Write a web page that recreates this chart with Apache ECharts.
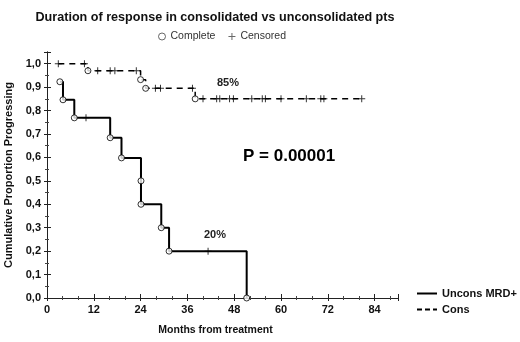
<!DOCTYPE html>
<html>
<head>
<meta charset="utf-8">
<script src="https://cdn.jsdelivr.net/npm/echarts@6/dist/echarts.min.js"></script>
<style>
  html, body { margin: 0; padding: 0; background: #fff; }
  #chart { width: 520px; height: 342px; }
</style>
</head>
<body>
<div id="chart"></div>
<script>
  // Kaplan-Meier data (months, cumulative proportion)
  var unconsTimes = [3.3, 4.1, 7.0, 16.2, 19.1, 24.1, 24.1, 29.3, 31.3, 51.2]
  var unconsSurv = [0.923, 0.846, 0.769, 0.684, 0.598, 0.5, 0.4, 0.3, 0.2, 0.0]
  var unconsCensor = [10.0, 41.3]

  var consStart = [2.9, 1.0]
  var consTimes = [10.5, 24.0, 25.3, 38.0]
  var consSurv = [0.97, 0.932, 0.895, 0.85]
  var consCensor = [2.9, 9.6, 13.0, 16.2, 17.4, 22.9, 27.8, 29.1, 37.3, 40.0, 43.5, 44.3,
    46.8, 47.8, 52.5, 55.2, 56.0, 60.0, 66.5, 70.2, 71.0, 80.7]

  var xTicks = [0, 12, 24, 36, 48, 60, 72, 84]

  // survival value at time t for a step curve
  function survAt(times, surv, t, start) {
    var v = start
    for (var i = 0; i < times.length; i++) {
      if (times[i] <= t) v = surv[i]
    }
    return v
  }

  function stepLine(times, surv, first, last) {
    var pts = []
    if (first) pts.push(first)
    for (var i = 0; i < times.length; i++) pts.push([times[i], surv[i]])
    if (last) pts.push(last)
    return pts
  }

  var unconsLine = stepLine(unconsTimes, unconsSurv, null, null)
  var consLine = stepLine(consTimes, consSurv, consStart,
    [consCensor[consCensor.length - 1], consSurv[consSurv.length - 1]])

  var completePts = []
  unconsTimes.forEach(function (t, i) { completePts.push([t, unconsSurv[i]]) })
  consTimes.forEach(function (t, i) { completePts.push([t, consSurv[i]]) })

  var censorPts = []
  unconsCensor.forEach(function (t) { censorPts.push([t, survAt(unconsTimes, unconsSurv, t, 1)]) })
  consCensor.forEach(function (t) { censorPts.push([t, survAt(consTimes, consSurv, t, consStart[1])]) })

  var plus = 'path://M3,0H4V3H7V4H4V7H3V4H0V3H3Z'
  var solidIcon = 'path://M0,0H20V2H0Z'
  var dashIcon = 'path://M0,0H5V2H0Z M8,0H13V2H8Z M16,0H20V2H16Z'
  var font = 'Liberation Sans, Arial, sans-serif'

  var chart = echarts.init(document.getElementById('chart'))

  var option = {
    animation: false,
    textStyle: { fontFamily: font },
    title: {
      text: 'Duration of response in consolidated vs unconsolidated pts',
      left: 210,
      textAlign: 'center',
      top: 6,
      textStyle: { fontSize: 12.6, fontWeight: 'bold', color: '#111' }
    },
    legend: [
      {
        data: [
          { name: 'Complete', icon: 'circle', itemStyle: { color: '#fff', borderColor: '#444', borderWidth: 1 } },
          { name: 'Censored', icon: plus, itemStyle: { color: '#444', borderWidth: 0 } }
        ],
        top: 26,
        left: 153,
        itemWidth: 7,
        itemHeight: 7,
        itemGap: 13,
        textStyle: { fontSize: 10.5, color: '#333' }
      },
      {
        data: [
          { name: 'Uncons MRD+', icon: solidIcon, itemStyle: { color: '#000', borderWidth: 0 } },
          { name: 'Cons', icon: dashIcon, itemStyle: { color: '#000', borderWidth: 0 } }
        ],
        orient: 'vertical',
        left: 412,
        top: 283,
        itemWidth: 20,
        itemHeight: 2,
        itemGap: 5,
        textStyle: { fontSize: 11, fontWeight: 'bold', color: '#111' }
      }
    ],
    grid: { left: 47, right: 122, top: 52, bottom: 44, show: false, outerBoundsMode: 'none', containLabel: false },
    xAxis: [
      {
        type: 'value',
        min: 0,
        max: 90,
        interval: 12,
        name: 'Months from treatment',
        nameLocation: 'middle',
        nameGap: 27,
        nameTextStyle: { fontSize: 10.5, fontWeight: 'bold', color: '#111', padding: [0, 14, 0, 0] },
        axisLine: { lineStyle: { color: '#222', width: 1 } },
        axisTick: { inside: true, length: 4, lineStyle: { color: '#222' } },
        minorTick: { show: true, splitNumber: 3, length: 2, lineStyle: { color: '#444' } },
        splitLine: { show: false },
        axisLabel: {
          fontSize: 11, fontWeight: 'bold', color: '#111', margin: 6,
          formatter: function (v) { return xTicks.indexOf(v) >= 0 ? String(v) : '' }
        }
      },
      {
        type: 'value',
        position: 'top',
        min: 0,
        max: 90,
        interval: 12,
        axisLine: { show: true, lineStyle: { color: '#222', width: 1 } },
        axisTick: { inside: true, length: 3, lineStyle: { color: '#222' } },
        minorTick: { show: true, splitNumber: 3, length: 2, lineStyle: { color: '#444' } },
        splitLine: { show: false },
        axisLabel: { show: false }
      }
    ],
    yAxis: [
      {
        type: 'value',
        min: 0,
        max: 1.05,
        interval: 0.1,
        name: 'Cumulative Proportion Progressing',
        nameLocation: 'middle',
        nameGap: 27,
        nameTextStyle: { fontSize: 11, fontWeight: 'bold', color: '#111' },
        axisLine: { show: true, lineStyle: { color: '#222', width: 1 } },
        axisTick: { inside: true, length: 4, lineStyle: { color: '#222' } },
        minorTick: { show: true, splitNumber: 2, length: 2, lineStyle: { color: '#444' } },
        splitLine: { show: false },
        axisLabel: {
          fontSize: 11, fontWeight: 'bold', color: '#111', margin: 6,
          formatter: function (v) {
            if (Math.abs(v * 10 - Math.round(v * 10)) > 1e-6 || v > 1.001) return ''
            return v.toFixed(1).replace('.', ',')
          }
        }
      },
      {
        type: 'value',
        position: 'right',
        min: 0,
        max: 1.05,
        interval: 0.1,
        axisLine: { show: true, lineStyle: { color: '#222', width: 1 } },
        axisTick: { inside: true, length: 3, lineStyle: { color: '#222' } },
        minorTick: { show: true, splitNumber: 2, length: 2, lineStyle: { color: '#444' } },
        splitLine: { show: false },
        axisLabel: { show: false }
      }
    ],
    graphic: [
      { type: 'text', left: 217, top: 77, style: { text: '85%', font: 'bold 11px ' + font, fill: '#222' } },
      { type: 'text', left: 204, top: 229, style: { text: '20%', font: 'bold 11px ' + font, fill: '#222' } },
      { type: 'text', left: 243, top: 148, style: { text: 'P = 0.00001', font: 'bold 17px ' + font, fill: '#000' } }
    ],
    series: [
      {
        name: 'Uncons MRD+',
        type: 'line',
        step: 'end',
        symbol: 'none',
        data: unconsLine,
        lineStyle: { color: '#000', width: 2 },
        itemStyle: { color: '#000' },
        z: 2
      },
      {
        name: 'Cons',
        type: 'line',
        step: 'end',
        symbol: 'none',
        data: consLine,
        lineStyle: { color: '#000', width: 1.5, type: [6, 5] },
        itemStyle: { color: '#000' },
        z: 2
      },
      {
        name: 'Complete',
        type: 'scatter',
        symbol: 'circle',
        symbolSize: 6,
        data: completePts,
        itemStyle: { color: '#fff', borderColor: '#000', borderWidth: 1 },
        z: 4
      },
      {
        name: 'Censored',
        type: 'scatter',
        symbol: plus,
        symbolSize: 7,
        data: censorPts,
        itemStyle: { color: '#000' },
        z: 3
      }
    ]
  }

  chart.setOption(option)
</script>
</body>
</html>
